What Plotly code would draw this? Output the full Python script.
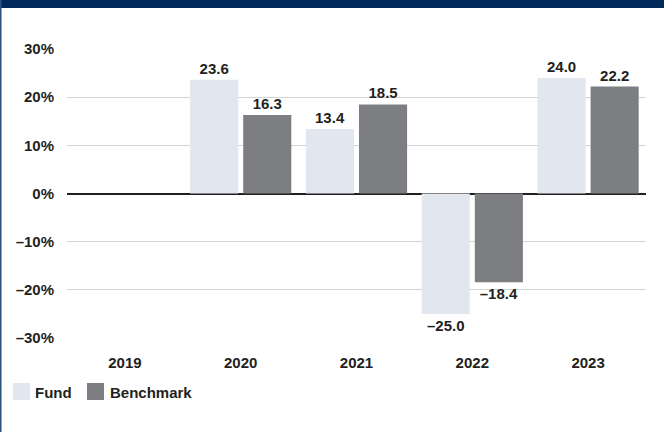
import plotly.graph_objects as go

years = ["2019", "2020", "2021", "2022", "2023"]
fund = [None, 23.6, 13.4, -25.0, 24.0]
benchmark = [None, 16.3, 18.5, -18.4, 22.2]
tick_vals = [-30, -20, -10, 0, 10, 20, 30]
tick_text = ["\u201330%", "\u201320%", "\u201310%", "0%", "10%", "20%", "30%"]
series_names = ["Fund", "Benchmark"]

FUND_COLOR = "#e1e6ef"
BENCH_COLOR = "#7d7e82"
TEXT_COLOR = "#231f20"
NAVY = "#002a5a"
FONT = "Liberation Sans, Arial, sans-serif"


def fmt(v):
    if v is None:
        return ""
    return f"{v:.1f}".replace("-", "\u2013")


def bfont(size=15):
    return dict(family=FONT, size=size, color=TEXT_COLOR, weight="bold")


fig = go.Figure()
for name, vals, col in [(series_names[0], fund, FUND_COLOR), (series_names[1], benchmark, BENCH_COLOR)]:
    fig.add_trace(go.Bar(
        x=years, y=vals, name=name, marker=dict(color=col, line=dict(width=0)),
        text=[fmt(v) for v in vals], textposition="outside", cliponaxis=False,
        textfont=bfont(), hoverinfo="skip",
    ))

L, R, T, B = 67, 18, 49, 94
W, H = 664, 432
pw, ph = W - L - R, H - T - B


def px(x):
    return (x - L) / pw


def py(y):
    return (H - B - y) / ph


shapes = [
    dict(type="rect", xref="paper", yref="paper", x0=px(-5), x1=px(W + 5), y0=py(8), y1=py(-5),
         fillcolor=NAVY, line=dict(width=0), layer="above"),
    dict(type="rect", xref="paper", yref="paper", x0=px(-2), x1=px(1.5), y0=py(H + 5), y1=py(0),
         fillcolor="#2c4f7d", line=dict(width=0), layer="above"),
    dict(type="rect", xref="paper", yref="paper", x0=px(13), x1=px(30), y0=py(400), y1=py(383),
         fillcolor=FUND_COLOR, line=dict(width=0)),
    dict(type="rect", xref="paper", yref="paper", x0=px(87), x1=px(104), y0=py(400), y1=py(383),
         fillcolor=BENCH_COLOR, line=dict(width=0)),
]
annotations = [
    dict(xref="paper", yref="paper", x=px(33), y=py(392), text=series_names[0], showarrow=False,
         xanchor="left", yanchor="middle", font=bfont()),
    dict(xref="paper", yref="paper", x=px(108), y=py(392), text=series_names[1], showarrow=False,
         xanchor="left", yanchor="middle", font=bfont()),
]

fig.update_layout(
    width=W, height=H, margin=dict(l=L, r=R, t=T, b=B, autoexpand=False),
    paper_bgcolor="white", plot_bgcolor="white",
    barmode="group", bargap=0.083, bargroupgap=0.094,
    showlegend=False,
    font=bfont(),
    shapes=shapes, annotations=annotations,
    xaxis=dict(showgrid=False, showline=False, zeroline=False, ticks="",
               tickfont=bfont(), ticklabelstandoff=14, fixedrange=True),
    yaxis=dict(range=[-30, 30], tickvals=tick_vals, ticktext=tick_text, showgrid=True,
               gridcolor="#d4d4d4", gridwidth=1, zeroline=True, zerolinecolor="#231f20",
               zerolinewidth=2, showline=False, ticks="", ticklabelstandoff=12,
               tickfont=bfont(), fixedrange=True),
)

fig.write_html("out.html", config={"displayModeBar": False},
               post_script="document.body.style.margin='0';document.body.style.overflow='hidden';")
